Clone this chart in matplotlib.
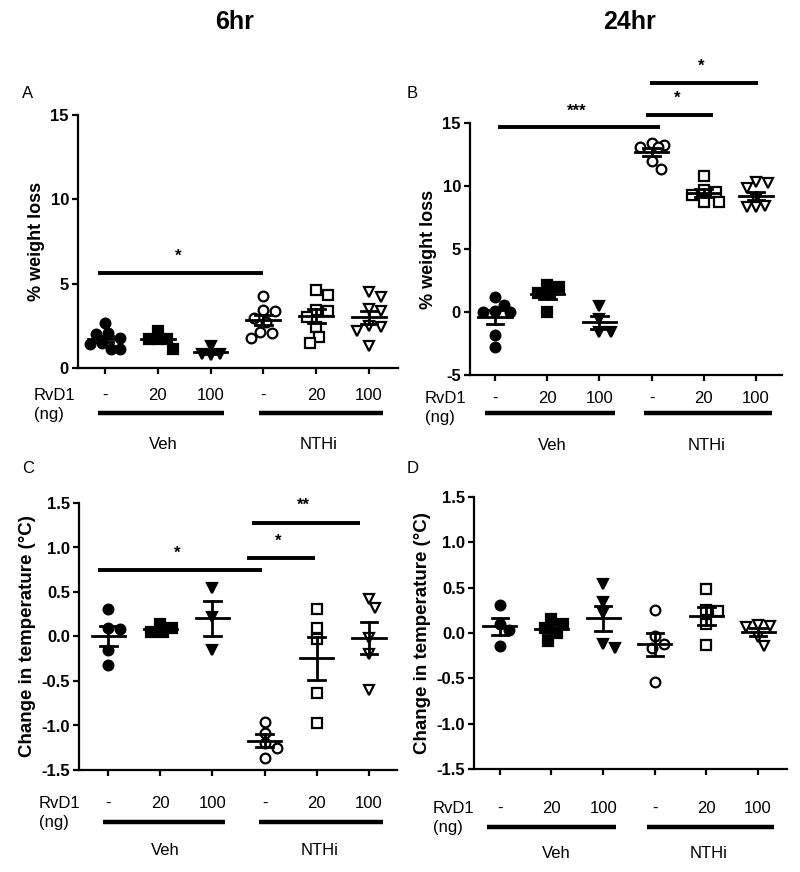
import matplotlib
matplotlib.use("Agg")
import matplotlib.pyplot as plt
import numpy as np
from matplotlib.transforms import blended_transform_factory, ScaledTranslation

plt.rcParams['font.family'] = ['Liberation Sans', 'DejaVu Sans']
plt.rcParams['axes.unicode_minus'] = False

rvd1_labels = ["-", "20", "100", "-", "20", "100"]
treatments = ["Veh", "NTHi"]

# A: % weight loss, 6hr
wt_6hr = [
    [2.65, 2.05, 2.0, 1.75, 1.5, 1.45, 1.15, 1.15],
    [2.2, 1.7, 1.7, 1.7, 1.15],
    [1.3, 0.85, 0.85, 0.8],
    [4.25, 3.45, 3.4, 2.95, 2.7, 2.15, 2.05, 1.75],
    [4.65, 4.35, 3.45, 3.35, 3.0, 2.45, 1.85, 1.5],
    [4.5, 4.2, 3.5, 3.4, 2.5, 2.45, 2.2, 1.3],
]
# B: % weight loss, 24hr
wt_24hr = [
    [1.2, 0.55, 0.05, 0.0, 0.0, -1.8, -2.75],
    [2.15, 2.0, 1.5, 1.4, 0.0],
    [0.5, -0.55, -1.6, -1.6],
    [13.4, 13.25, 13.1, 13.1, 11.95, 11.35],
    [10.8, 9.7, 9.5, 9.3, 8.7, 8.7],
    [10.35, 10.25, 9.85, 9.0, 8.4, 8.35, 8.3],
]
# C: change in temperature, 6hr
temp_6hr = [
    [0.31, 0.1, 0.08, -0.15, -0.32],
    [0.14, 0.09, 0.05, 0.05],
    [0.54, 0.22, -0.15],
    [-0.96, -1.08, -1.2, -1.25, -1.36],
    [0.31, 0.09, -0.03, -0.63, -0.97],
    [0.42, 0.32, -0.02, -0.2, -0.6],
]
# D: change in temperature, 24hr
temp_24hr = [
    [0.31, 0.1, 0.03, -0.14],
    [0.15, 0.1, 0.05, 0.0, -0.09],
    [0.54, 0.34, 0.22, -0.12, -0.17],
    [0.25, -0.03, -0.12, -0.17, -0.54],
    [0.48, 0.25, 0.24, 0.1, -0.13],
    [0.09, 0.08, 0.07, -0.04, -0.14],
]

# significance: (from, to, bar height, label)
sig_A = [(-0.13, 3.0, 5.66, "*")]
sig_B = [(0.06, 3.16, 14.66, "***"), (2.89, 4.18, 15.66, "*"), (2.97, 5.04, 18.18, "*")]
sig_C = [(-0.19, 2.95, 0.75, "*"), (2.66, 3.97, 0.88, "*"), (2.76, 4.83, 1.28, "**")]
sig_D = []

markers = ['o', 's', 'v', 'o', 's', 'v']
filled = [True, True, True, False, False, False]
msizes = [7, 6.5, 7.5, 7, 6.5, 7.5]

W, H = 800, 872
fig = plt.figure(figsize=(W / 100, H / 100), dpi=100)


def px_axes(x0, x1, ytop, ybot):
    return fig.add_axes([x0 / W, 1 - ybot / H, (x1 - x0) / W, (ybot - ytop) / H])


def swarm(ax, xc, vals, diam, maxoff=17):
    # spread points sideways (in pixels) so markers overlap as little as possible
    pts = ax.transData.transform(np.column_stack([np.full(len(vals), xc), vals]))
    placed = []
    out = np.zeros(len(vals))
    cands = [0.0]
    step = 3.0
    k = 1
    while k * step <= maxoff:
        cands += [k * step, -k * step]
        k += 1
    for i in np.argsort(vals)[::-1]:
        xp, yp = pts[i]
        best, bestd = 0.0, -1
        for off in cands:
            d = min([np.hypot(xp + off - a, yp - b) for a, b in placed] or [1e9])
            if d >= diam:
                best = off
                break
            if d > bestd:
                best, bestd = off, d
        placed.append((xp + best, yp))
        out[i] = xp + best
    back = ax.transData.inverted().transform(np.column_stack([out, pts[:, 1]]))
    return back[:, 0]


def panel(ax, data, ylim, yticks, fmt, ylabel, ylsize, xlim, sig, lab_dy, bar_dy, grp_dy,
          rvd_x, rvd_y, veh_span, nthi_span):
    ax.set_xlim(*xlim)
    ax.set_ylim(*ylim)
    for s in ['top', 'right']:
        ax.spines[s].set_visible(False)
    for s in ['left', 'bottom']:
        ax.spines[s].set_linewidth(1.6)
    ax.set_yticks(yticks)
    ax.set_yticklabels([fmt % v for v in yticks], fontweight='bold', fontsize=12)
    ax.set_xticks(range(6))
    ax.set_xticklabels([])
    ax.tick_params(axis='both', width=1.6, length=4.5, pad=2)
    ax.set_ylabel(ylabel, fontweight='bold', fontsize=ylsize, labelpad=4)

    for i, vals in enumerate(data):
        vals = np.array(vals)
        xs = swarm(ax, i, vals, 10.5)
        fc = 'black' if filled[i] else 'white'
        ax.plot(xs, vals, linestyle='none', marker=markers[i], ms=msizes[i],
                mfc=fc, mec='black', mew=1.6, zorder=3, clip_on=False)
        m = vals.mean()
        sem = vals.std(ddof=1) / np.sqrt(len(vals))
        ax.plot([i - 0.32, i + 0.32], [m, m], color='black', lw=2, zorder=4)
        ax.plot([i, i], [m - sem, m + sem], color='black', lw=2, zorder=4)
        for e in (m - sem, m + sem):
            ax.plot([i - 0.16, i + 0.16], [e, e], color='black', lw=2, zorder=4)

    yr = ylim[1] - ylim[0]
    for x1, x2, y, t in sig:
        ax.plot([x1, x2], [y, y], color='black', lw=2.8, clip_on=False,
                solid_capstyle='butt')
        ax.text((x1 + x2) / 2 - 0.05, y + yr * 0.035, t, ha='center', va='bottom',
                fontsize=12, fontweight='bold', clip_on=False)

    def tr(dy):
        return blended_transform_factory(ax.transData, ax.transAxes) + \
            ScaledTranslation(0, -dy / 100, fig.dpi_scale_trans)

    for i, t in enumerate(rvd1_labels):
        ax.text(i, 0, t, transform=tr(lab_dy), ha='center', va='center', fontsize=12)
    for span in (veh_span, nthi_span):
        ax.plot(span, [0, 0], transform=tr(bar_dy), color='black', lw=3.2,
                clip_on=False, solid_capstyle='butt')
    ax.text(1.1, 0, treatments[0], transform=tr(grp_dy), ha='center', va='center', fontsize=12)
    ax.text(4.05, 0, treatments[1], transform=tr(grp_dy), ha='center', va='center', fontsize=12)
    fig.text(rvd_x / W, 1 - rvd_y / H, "RvD1", ha='left', va='center', fontsize=12)
    fig.text(rvd_x / W, 1 - (rvd_y + 19) / H, "(ng)", ha='left', va='center', fontsize=12)


axA = px_axes(78, 398, 115, 368)
panel(axA, wt_6hr, (0, 15), [0, 5, 10, 15], '%d', '% weight loss', 13, (-0.51, 5.55), sig_A,
      27, 45, 76, 34, 395, (-0.13, 2.25), (2.92, 5.27))

axB = px_axes(470, 782, 123, 375)
panel(axB, wt_24hr, (-5, 15), [-5, 0, 5, 10, 15], '%d', '% weight loss', 13, (-0.48, 5.5), sig_B,
      23, 38, 70, 425, 398, (-0.2, 2.3), (2.85, 5.3))

axC = px_axes(79, 397, 503, 770)
panel(axC, temp_6hr, (-1.5, 1.5), [-1.5, -1.0, -0.5, 0.0, 0.5, 1.0, 1.5], '%.1f',
      'Change in temperature (°C)', 13.5, (-0.56, 5.54), sig_C,
      33, 52, 80, 39, 803, (-0.1, 2.25), (2.9, 5.27))

axD = px_axes(474, 787, 497, 769)
panel(axD, temp_24hr, (-1.5, 1.5), [-1.5, -1.0, -0.5, 0.0, 0.5, 1.0, 1.5], '%.1f',
      'Change in temperature (°C)', 13.5, (-0.5, 5.56), sig_D,
      39, 58, 84, 433, 808, (-0.25, 2.25), (2.85, 5.3))

fig.text(235 / W, 1 - 22 / H, "6hr", ha='center', va='center', fontsize=18, fontweight='bold')
fig.text(630 / W, 1 - 22 / H, "24hr", ha='center', va='center', fontsize=18, fontweight='bold')
for lab, x, y in [("A", 22, 93), ("B", 407, 93), ("C", 22, 468), ("D", 407, 468)]:
    fig.text(x / W, 1 - y / H, lab, ha='left', va='center', fontsize=12)

fig.savefig("out.png", dpi=100)
